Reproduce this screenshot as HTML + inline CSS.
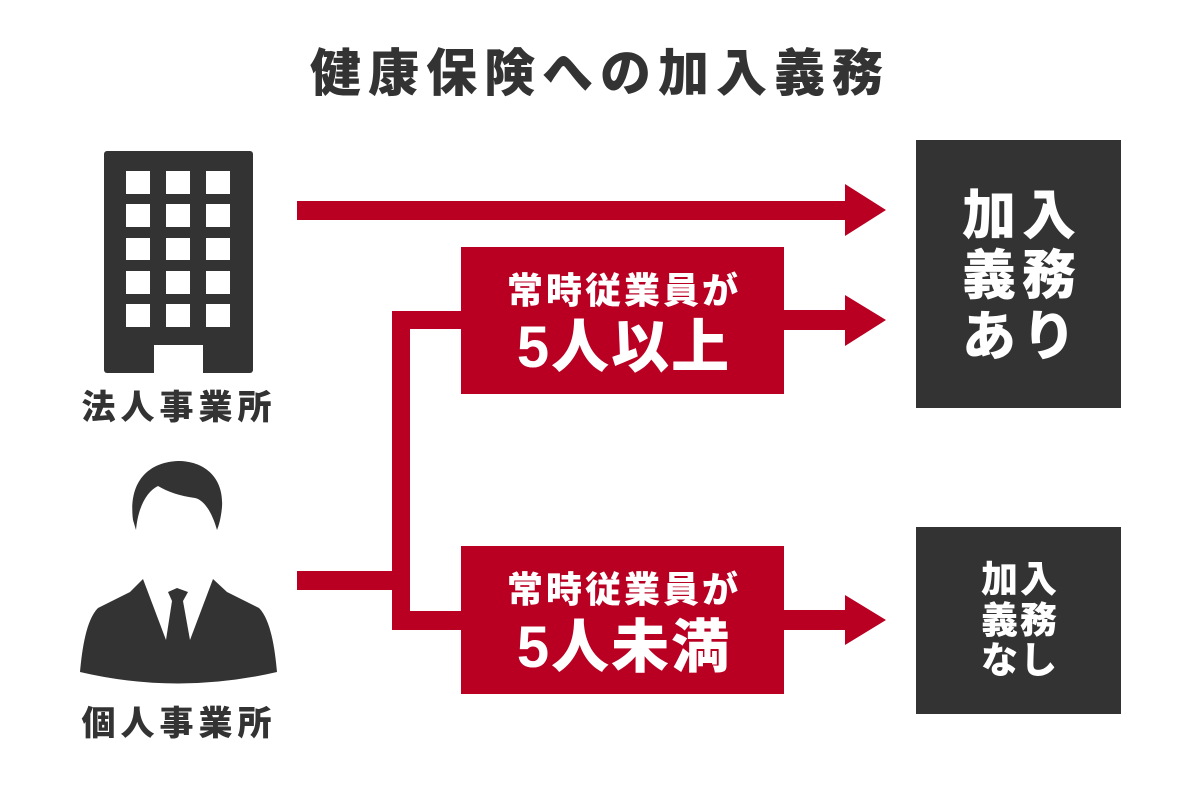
<!DOCTYPE html>
<html><head><meta charset="utf-8"><style>
html,body{margin:0;padding:0;background:#fff;}
svg{display:block;}
text{font-family:"Liberation Sans","Noto Sans CJK JP",sans-serif;font-weight:900;}
</style></head><body>
<svg width="1200" height="800" viewBox="0 0 1200 800" xmlns="http://www.w3.org/2000/svg">
<rect width="1200" height="800" fill="#fff"/>
<!-- title -->
<text x="600" y="91" font-size="51" fill="#333" text-anchor="middle" letter-spacing="7">健康保険への加入義務</text>

<!-- building -->
<rect x="104" y="151" width="149" height="222" rx="3" fill="#333"/>
<g fill="#fff">
<rect x="126" y="171" width="24" height="23"/><rect x="166" y="171" width="24" height="23"/><rect x="206" y="171" width="24" height="23"/>
<rect x="126" y="204" width="24" height="23"/><rect x="166" y="204" width="24" height="23"/><rect x="206" y="204" width="24" height="23"/>
<rect x="126" y="238" width="24" height="22"/><rect x="166" y="238" width="24" height="22"/><rect x="206" y="238" width="24" height="22"/>
<rect x="126" y="271" width="24" height="23"/><rect x="166" y="271" width="24" height="23"/><rect x="206" y="271" width="24" height="23"/>
<rect x="126" y="304" width="24" height="23"/><rect x="166" y="304" width="24" height="23"/><rect x="206" y="304" width="24" height="23"/>
<rect x="154" y="345" width="49" height="29"/>
</g>
<text x="179" y="419" font-size="34" fill="#333" text-anchor="middle" letter-spacing="5">法人事業所</text>

<!-- person -->
<path d="M133,520 C128,480 150,462 178,461 C205,461 224,478 222,507 C221,518 219,525 217,530 C212,512 204,500 195,498 C180,496 168,492 158,486 C146,492 138,508 136,530 Z" fill="#333"/>
<path d="M143,579 L130,592 L98,608 C86,620 82,650 80,672 Q178,695 277,672 C275,650 271,620 259,608 L227,592 L213,579 Z" fill="#333"/>
<polygon points="143,579 166,640 190,640 213,579" fill="#fff"/>
<polygon points="168,592 177,588 188,592 183,601 172,601" fill="#333"/>
<polygon points="172,601 183,601 190,640 178,648 166,640" fill="#333"/>
<text x="179" y="735" font-size="34" fill="#333" text-anchor="middle" letter-spacing="5">個人事業所</text>

<!-- connectors -->
<g fill="#b90023">
<rect x="297" y="201" width="550" height="19"/>
<polygon points="845,184 886,210 845,236"/>
<rect x="297" y="571" width="104" height="19"/>
<rect x="392" y="311" width="18" height="319"/>
<rect x="392" y="311" width="70" height="18"/>
<rect x="392" y="611" width="70" height="19"/>
<rect x="780" y="310" width="67" height="20"/>
<polygon points="845,295 886,320 845,346"/>
<rect x="780" y="610" width="67" height="20"/>
<polygon points="845,595 886,620 845,645"/>
<rect x="461" y="247" width="323" height="147"/>
<rect x="461" y="546" width="323" height="148"/>
</g>
<g fill="#fff" text-anchor="middle">
<text x="624" y="303" font-size="36" letter-spacing="3">常時従業員が</text>
<text x="624" y="367" font-size="58" letter-spacing="2">5人以上</text>
<text x="624" y="602" font-size="36" letter-spacing="3">常時従業員が</text>
<text x="624" y="667" font-size="58" letter-spacing="2">5人未満</text>
</g>

<!-- result boxes -->
<rect x="916" y="140" width="205" height="268" fill="#333"/>
<rect x="916" y="527" width="205" height="187" fill="#333"/>
<g fill="#fff" text-anchor="middle">
<text x="1022" y="234" font-size="54" letter-spacing="6">加入</text>
<text x="1022" y="294" font-size="54" letter-spacing="6">義務</text>
<text x="1022" y="355" font-size="54" letter-spacing="6">あり</text>
<text x="1020" y="592" font-size="37" letter-spacing="2">加入</text>
<text x="1020" y="633" font-size="37" letter-spacing="2">義務</text>
<text x="1020" y="673" font-size="37" letter-spacing="2">なし</text>
</g>
</svg>
</body></html>
